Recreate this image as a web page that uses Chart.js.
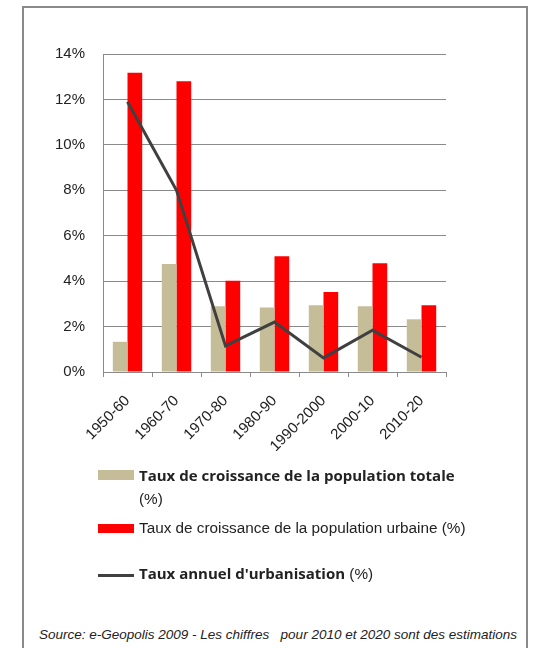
<!DOCTYPE html>
<html>
<head>
<meta charset="utf-8">
<script src="https://cdn.jsdelivr.net/npm/chart.js@4.4.0/dist/chart.umd.min.js"></script>
<style>
  html, body { margin: 0; padding: 0; background: #fff; }
  body { width: 535px; height: 648px; position: relative; overflow: hidden; }
  #frame {
    position: absolute; left: 22px; top: 6px; width: 506px; height: 660px;
    border: 2px solid #8a8a8a; box-sizing: border-box;
  }
  #wrap { position: absolute; left: 22px; top: 6px; width: 504px; height: 460px; }
  #legend { position: absolute; left: 98px; top: 466px; }
  .item { position: absolute; height: 24px; }
  .sw { position: absolute; left: 0; width: 36px; }
  .txt {
    position: absolute; left: 41px; width: 335px;
    font: 15.3px "Liberation Sans", Arial, sans-serif; color: #222; line-height: 23px;
  }
  .txt b { font: bold 15px "Open Sans", sans-serif; }
  #source {
    position: absolute; left: 26px; width: 504px; top: 627px; text-align: center;
    font: italic 13.5px "Liberation Sans", Arial, sans-serif; color: #222; white-space: pre;
  }
</style>
</head>
<body>
<div id="frame"></div>
<div id="wrap"><canvas id="chart"></canvas></div>
<div id="legend"></div>
<div id="source">Source: e-Geopolis 2009 - Les chiffres   pour 2010 et 2020 sont des estimations</div>
<script>
const periods = ['1950-60', '1960-70', '1970-80', '1980-90', '1990-2000', '2000-10', '2010-20'];
const totalGrowth = [1.33, 4.75, 2.9, 2.84, 2.94, 2.89, 2.32];
const urbanGrowth = [13.18, 12.8, 4.02, 5.1, 3.52, 4.79, 2.94];
const urbanisationRate = [11.9, 8.0, 1.15, 2.2, 0.62, 1.84, 0.65];
const yTicks = [0, 2, 4, 6, 8, 10, 12, 14];

// legend text: bold part + plain part, same order as datasets
const legendBold = ['Taux de croissance de la population totale', '', "Taux annuel d'urbanisation"];
const legendPlain = ['(%)', 'Taux de croissance de la population urbaine (%)', '(%)'];

const tickFont = { family: '"Liberation Sans", Arial, sans-serif', size: 15 };

const htmlLegend = {
    id: 'htmlLegend',
    afterUpdate(chart) {
        const box = document.getElementById('legend');
        box.innerHTML = '';
        const tops = [0, 52, 98];
        chart.data.datasets.forEach((ds, i) => {
            const item = document.createElement('div');
            item.className = 'item';
            item.style.top = tops[i] + 'px';
            const sw = document.createElement('div');
            sw.className = 'sw';
            if (ds.type === 'line') {
                sw.style.top = '10px';
                sw.style.height = ds.borderWidth + 'px';
                sw.style.background = ds.borderColor;
            } else {
                sw.style.top = i === 0 ? '4px' : '6px';
                sw.style.height = i === 0 ? '10px' : '9px';
                sw.style.background = ds.backgroundColor;
            }
            const txt = document.createElement('div');
            txt.className = 'txt';
            txt.style.top = '-2px';
            if (legendBold[i]) {
                const b = document.createElement('b');
                b.textContent = legendBold[i];
                txt.appendChild(b);
                txt.appendChild(document.createTextNode(' '));
            }
            txt.appendChild(document.createTextNode(legendPlain[i]));
            item.appendChild(sw);
            item.appendChild(txt);
            box.appendChild(item);
        });
    }
};

const ctx = document.getElementById('chart').getContext('2d');
new Chart(ctx, {
    type: 'bar',
    data: {
        labels: periods,
        datasets: [
            {
                label: (legendBold[0] + ' ' + legendPlain[0]).trim(),
                data: totalGrowth,
                backgroundColor: '#c4bd97',
                categoryPercentage: 0.6,
                barPercentage: 1.0,
                order: 1
            },
            {
                label: (legendBold[1] + ' ' + legendPlain[1]).trim(),
                data: urbanGrowth,
                backgroundColor: '#ff0000',
                categoryPercentage: 0.6,
                barPercentage: 1.0,
                order: 1
            },
            {
                type: 'line',
                label: (legendBold[2] + ' ' + legendPlain[2]).trim(),
                data: urbanisationRate,
                borderColor: '#404040',
                borderWidth: 3,
                pointRadius: 0,
                tension: 0,
                order: 0
            }
        ]
    },
    options: {
        responsive: true,
        maintainAspectRatio: false,
        animation: false,
        layout: { padding: { top: 48, right: 80, bottom: 0, left: 0 } },
        plugins: {
            legend: { display: false },
            tooltip: { enabled: false }
        },
        scales: {
            x: {
                grid: { offset: true, drawOnChartArea: false, drawTicks: true, tickLength: 5, color: '#8a8a8a' },
                border: { color: '#8a8a8a', width: 1 },
                ticks: {
                    minRotation: 45, maxRotation: 45, padding: 15,
                    color: '#222', font: tickFont
                },
                afterFit(scale) { scale.height = 94; }
            },
            y: {
                min: 0, max: 14,
                afterBuildTicks(scale) { scale.ticks = yTicks.map(v => ({ value: v })); },
                grid: { color: '#8a8a8a', drawTicks: false },
                border: { color: '#8a8a8a', width: 1 },
                ticks: {
                    padding: 18, color: '#222',
                    font: tickFont,
                    callback: v => v + '%'
                },
                afterFit(scale) { scale.width = 81; }
            }
        }
    },
    plugins: [htmlLegend]
});
</script>
</body>
</html>
